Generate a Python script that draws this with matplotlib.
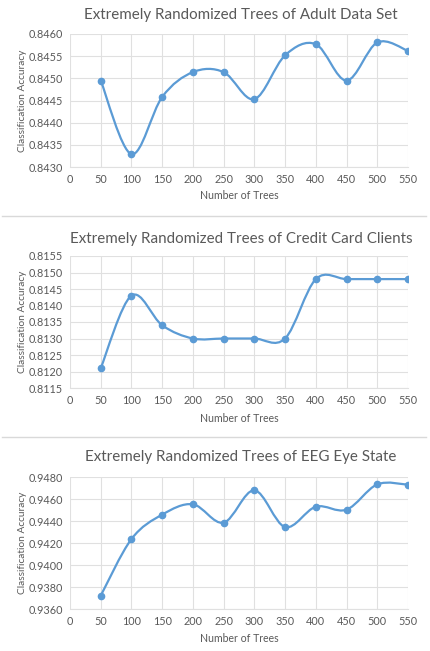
import matplotlib
matplotlib.use('Agg')
import matplotlib.pyplot as plt
from matplotlib.path import Path
from matplotlib.patches import PathPatch
from matplotlib.lines import Line2D

plt.rcParams['font.family'] = ['Lato', 'DejaVu Sans']

# Datos
trees = [50, 100, 150, 200, 250, 300, 350, 400, 450, 500, 550]
acc_adult = [0.84495, 0.84329, 0.84458, 0.84514, 0.84514, 0.84453,
             0.84552, 0.84577, 0.84495, 0.84581, 0.84562]
acc_credit = [0.8121, 0.8143, 0.8134, 0.8130, 0.8130, 0.8130,
              0.8130, 0.8148, 0.8148, 0.8148, 0.8148]
acc_eeg = [0.93721, 0.94236, 0.94458, 0.94552, 0.94385, 0.94679,
           0.94345, 0.94530, 0.94503, 0.94733, 0.94730]

titles = ["Extremely Randomized Trees of Adult Data Set",
          "Extremely Randomized Trees of Credit Card Clients",
          "Extremely Randomized Trees of EEG Eye State"]
ylims = [(0.8430, 0.8460, 0.0005), (0.8115, 0.8155, 0.0005), (0.9360, 0.9480, 0.0020)]
series = [acc_adult, acc_credit, acc_eeg]

BLUE = '#5B9BD5'
GRAY_TXT = '#595959'
GRID = '#E0E0E0'

W, H = 431, 651
fig = plt.figure(figsize=(W / 100, H / 100), dpi=100)

# posiciones en pixeles: (top del area, bottom del area, y titulo, y xlabel)
paneles = [(34, 167, 15, 196), (256, 388, 239, 418), (477, 609, 457, 639)]
left_px, right_px = 70, 408


def curva_suave(x, y):
    # suavizado tipo Excel (Bezier cubica, Catmull-Rom)
    verts = [(x[0], y[0])]
    codes = [Path.MOVETO]
    n = len(x)
    for i in range(n - 1):
        x0, y0 = (x[i - 1], y[i - 1]) if i > 0 else (x[i], y[i])
        x3, y3 = (x[i + 2], y[i + 2]) if i + 2 < n else (x[i + 1], y[i + 1])
        c1 = (x[i] + (x[i + 1] - x0) / 6, y[i] + (y[i + 1] - y0) / 6)
        c2 = (x[i + 1] - (x3 - x[i]) / 6, y[i + 1] - (y3 - y[i]) / 6)
        verts += [c1, c2, (x[i + 1], y[i + 1])]
        codes += [Path.CURVE4] * 3
    return Path(verts, codes)


for k, (top, bot, ty, xy) in enumerate(paneles):
    ax = fig.add_axes([left_px / W, 1 - bot / H, (right_px - left_px) / W, (bot - top) / H])
    lo, hi, step = ylims[k]
    ax.set_xlim(0, 550)
    ax.set_ylim(lo, hi)
    ax.set_xticks(range(0, 551, 50))
    n_ticks = int(round((hi - lo) / step)) + 1
    ax.set_yticks([lo + i * step for i in range(n_ticks)])
    ax.yaxis.set_major_formatter(matplotlib.ticker.FormatStrFormatter('%.4f'))
    ax.grid(True, color=GRID, linewidth=0.8)
    ax.set_axisbelow(True)
    for s in ['top', 'right', 'left']:
        ax.spines[s].set_visible(False)
    ax.spines['bottom'].set_color(GRID)
    ax.tick_params(length=0, labelsize=7.8, colors=GRAY_TXT, pad=5)

    patch = PathPatch(curva_suave(trees, series[k]), facecolor='none',
                      edgecolor=BLUE, linewidth=1.6, zorder=3)
    ax.add_patch(patch)
    ax.plot(trees, series[k], 'o', color=BLUE, markersize=4.5, zorder=4)

    fig.text(0.5 * (left_px + right_px) / W + 0.005, 1 - ty / H, titles[k],
             ha='center', va='center', fontsize=10.9, color=GRAY_TXT)
    fig.text(239 / W, 1 - xy / H, "Number of Trees", ha='center', va='center',
             fontsize=7.6, color=GRAY_TXT)
    fig.text(23 / W, 1 - (top + bot) / 2 / H, "Classification Accuracy", ha='center',
             va='center', rotation=90, fontsize=7.3, color=GRAY_TXT)

# lineas separadoras entre graficos
for ysep in [216, 437]:
    fig.add_artist(Line2D([2 / W, 426 / W], [1 - ysep / H, 1 - ysep / H],
                          color='#D9D9D9', linewidth=1))

fig.savefig('out.png', dpi=100, facecolor='white')
